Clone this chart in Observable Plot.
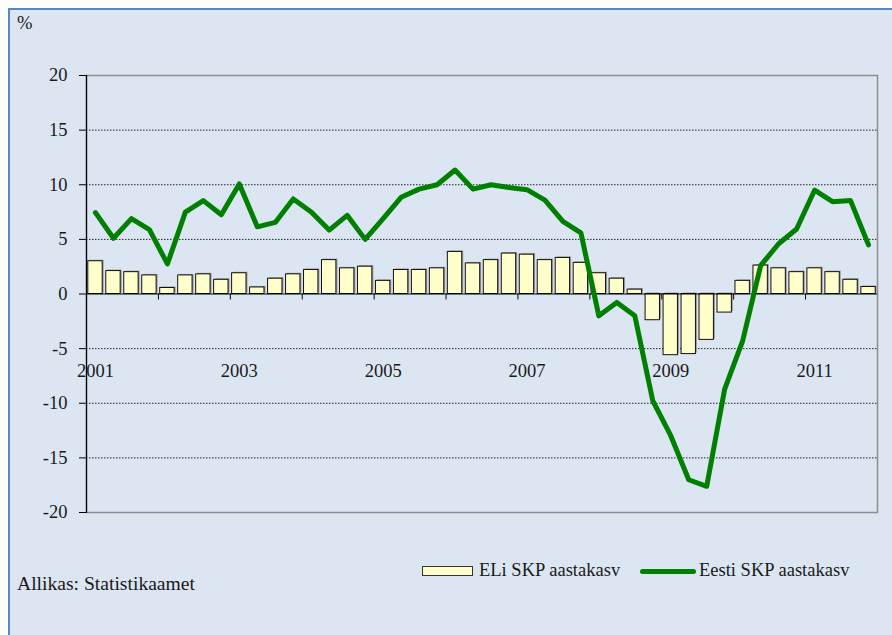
<!DOCTYPE html>
<html><head><meta charset="utf-8">
<script src="https://cdn.jsdelivr.net/npm/d3@7"></script>
<script src="https://cdn.jsdelivr.net/npm/@observablehq/plot@0.6"></script>
<style>
body{margin:0;background:#fff;}
#wrap{position:relative;width:892px;height:635px;overflow:hidden;background:#fff;font-family:"Liberation Serif","DejaVu Serif",serif;color:#000;}
#panel{position:absolute;left:8px;top:8px;width:950px;height:700px;background:#DCE6F2;border:2px solid #5B86C5;box-sizing:border-box;}
#chart{position:absolute;left:0;top:0;}
.lbl{position:absolute;font-size:18.5px;line-height:1;white-space:nowrap;color:#1a1a1a;}
.sw-bar{position:absolute;left:422px;top:566px;width:51px;height:10px;background:#FFFFCC;border:1px solid #333;box-sizing:border-box;}
.sw-line{position:absolute;left:640px;top:568.5px;width:56px;height:5px;background:#008000;border-radius:2.5px;}
</style></head>
<body>
<div id="wrap">
  <div id="panel"></div>
  <div id="chart"></div>
  <div class="lbl" style="left:17px;top:13.5px;">%</div>
  <div class="sw-bar"></div>
  <div class="lbl" style="left:479px;top:560.5px;">ELi SKP aastakasv</div>
  <div class="sw-line"></div>
  <div class="lbl" style="left:699px;top:560.5px;">Eesti SKP aastakasv</div>
  <div class="lbl" style="left:17px;top:574px;font-size:19.6px;">Allikas: Statistikaamet</div>
</div>
<script>
const quarters = [
  "2001Q1","2001Q2","2001Q3","2001Q4","2002Q1","2002Q2","2002Q3","2002Q4",
  "2003Q1","2003Q2","2003Q3","2003Q4","2004Q1","2004Q2","2004Q3","2004Q4",
  "2005Q1","2005Q2","2005Q3","2005Q4","2006Q1","2006Q2","2006Q3","2006Q4",
  "2007Q1","2007Q2","2007Q3","2007Q4","2008Q1","2008Q2","2008Q3","2008Q4",
  "2009Q1","2009Q2","2009Q3","2009Q4","2010Q1","2010Q2","2010Q3","2010Q4",
  "2011Q1","2011Q2","2011Q3","2011Q4"
];
const euGrowth = [
  3.0, 2.1, 2.0, 1.7,  0.55, 1.7, 1.8, 1.3,  1.9, 0.6, 1.4, 1.8,  2.2, 3.1, 2.35, 2.5,
  1.2, 2.2, 2.2, 2.35,  3.85, 2.8, 3.1, 3.7,  3.6, 3.1, 3.3, 2.85,  1.9, 1.4, 0.4, -2.4,
  -5.6, -5.5, -4.2, -1.7,  1.2, 2.6, 2.35, 2.0,  2.35, 2.0, 1.3, 0.64
];
const eeGrowth = [
  7.45, 5.1, 6.9, 5.9,  2.75, 7.5, 8.55, 7.25,  10.07, 6.15, 6.55, 8.7,  7.5, 5.85, 7.2, 5.0,
  6.9, 8.85, 9.6, 10.0,  11.35, 9.6, 10.0, 9.75,  9.55, 8.6, 6.65, 5.6,  -2.0, -0.77, -2.0, -9.77,
  -12.97, -17.0, -17.6, -8.7,  -4.28, 2.6, 4.6, 5.95,  9.5, 8.45, 8.55, 4.5
];
const yearLabels = ["2001","2003","2005","2007","2009","2011"];
const yTicks = [-20,-15,-10,-5,0,5,10,15,20];

const data = quarters.map((q, i) => ({q, eu: euGrowth[i], ee: eeGrowth[i]}));
const yearStarts = quarters.filter((q, i) => i > 0 && q.endsWith("Q1"));
const labelData = yearLabels.map(y => ({q: y + "Q1", label: y}));

const W = 892, H = 635, mL = 86, mR = 15;
const step = (W - mL - mR) / quarters.length;
const font = '"Liberation Serif","DejaVu Serif",serif';

const chart = Plot.plot({
  width: W, height: H,
  marginLeft: mL, marginRight: mR, marginTop: 75, marginBottom: 123,
  style: {background: "transparent", fontFamily: font, fontSize: "18.5px", color: "#1a1a1a", overflow: "visible"},
  x: {type: "band", domain: quarters, paddingInner: 0.2, paddingOuter: 0.1, axis: null},
  y: {domain: [-20, 20], axis: null},
  marks: [
    Plot.gridY(yTicks.filter(t => t !== 0 && t !== 20), {stroke: "#222", strokeOpacity: 1, strokeDasharray: "1.5,1.5"}),
    Plot.frame({stroke: "#8c8c8c", strokeWidth: 1.5}),
    Plot.barY(data, {x: "q", y: "eu", fill: "#9a9a9a", dx: 1.5, dy: -1}),
    Plot.barY(data, {x: "q", y: "eu", fill: "#FFFFCC", stroke: "#111", strokeWidth: 1}),
    Plot.ruleY([0], {stroke: "#000", strokeWidth: 1.2}),
    Plot.ruleX(yearStarts, {x: d => d, y1: 0, y2: 0, insetBottom: -6, dx: -step / 2, stroke: "#000"}),
    Plot.frame({anchor: "left", stroke: "#000", strokeWidth: 1.2}),
    Plot.axisY({ticks: yTicks, tickSize: 7, tickPadding: 12, fontSize: 18.5, stroke: "#000", tickFormat: d => String(d)}),
    Plot.lineY(data, {x: "q", y: "ee", stroke: "#008000", strokeWidth: 5, strokeLinejoin: "round", strokeLinecap: "round"}),
    Plot.text(labelData, {x: "q", y: 0, text: "label", dy: 77, fontSize: 18.5, fill: "#1a1a1a"})
  ]
});
document.getElementById("chart").appendChild(chart);
</script>
</body></html>
